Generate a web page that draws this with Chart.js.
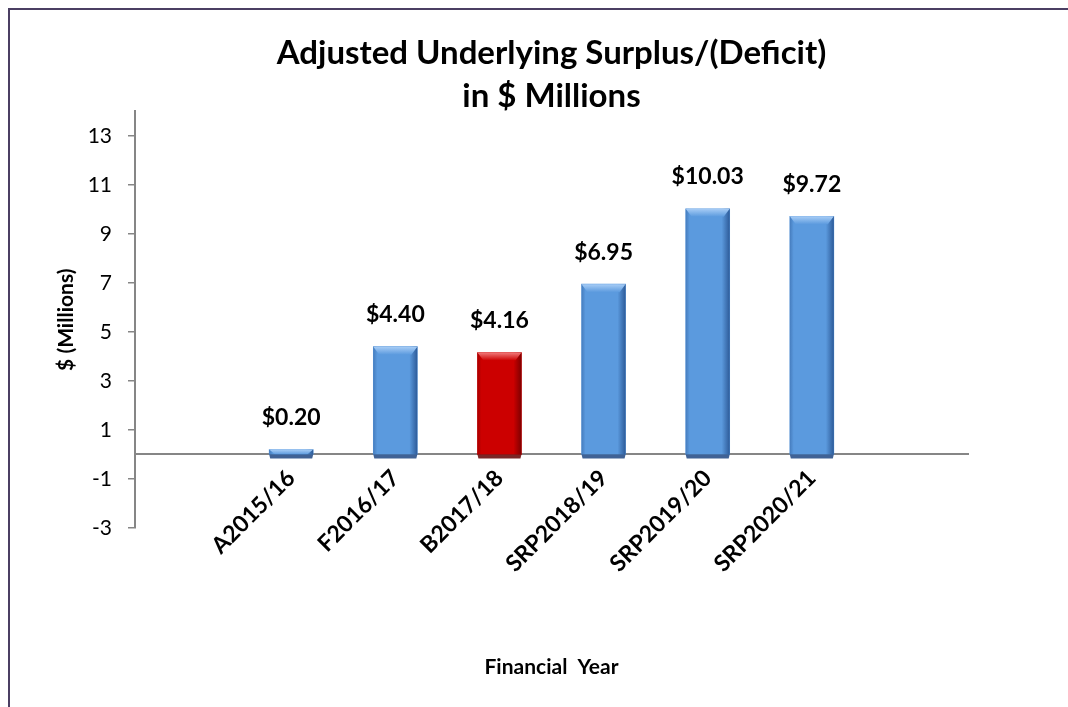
<!DOCTYPE html>
<html lang="en">
<head>
<meta charset="utf-8">
<title>Adjusted Underlying Surplus/(Deficit)</title>
<script src="https://cdn.jsdelivr.net/npm/chart.js"></script>
<style>
	body{ margin:0; background:#fff; }
	.chart_div{ position:relative; width:1068px; height:707px; overflow:hidden; background:#fff; }
	.frame{ position:absolute; left:8px; top:8px; width:1100px; height:800px; border-top:2px solid #4b3f63; border-left:2px solid #4b3f63; }
	#myChart{ position:absolute; left:0; top:0; }
</style>
</head>
<body>
<div class="chart_div">
	<div class="frame"></div>
	<canvas id="myChart" width="1068" height="707"></canvas>
</div>
<script>
// data
const categories = ['A2015/16', 'F2016/17', 'B2017/18', 'SRP2018/19', 'SRP2019/20', 'SRP2020/21'];
const surplus = [0.20, 4.40, 4.16, 6.95, 10.03, 9.72];
const yTicks = [-3, -1, 1, 3, 5, 7, 9, 11, 13];

// bar colours (budget year is red)
const barColors = ['#5b9ade', '#5b9ade', '#cc0000', '#5b9ade', '#5b9ade', '#5b9ade'];
const darkShade = { '#5b9ade': '30,70,130', '#cc0000': '100,0,0' };
const lightShade = { '#5b9ade': '#a8cdf6', '#cc0000': '#f07a7a' };

Chart.defaults.font.family = 'Lato';
Chart.defaults.color = '#000';

const axisGray = '#868686';

// 3d-ish bevel on top of the plain bars
const bevelPlugin = {
	id: 'bevel',
	afterDatasetsDraw(chart) {
		const ctx = chart.ctx;
		const meta = chart.getDatasetMeta(0);
		meta.data.forEach(function(bar, i) {
			const p = bar.getProps(['x', 'y', 'base', 'width'], true);
			const l = p.x - p.width / 2, r = p.x + p.width / 2;
			const top = Math.min(p.y, p.base), bot = Math.max(p.y, p.base);
			const dark = darkShade[barColors[i]];
			ctx.save();
			// right side shadow
			let g = ctx.createLinearGradient(r - 8, 0, r, 0);
			g.addColorStop(0, 'rgba(' + dark + ',0)');
			g.addColorStop(1, 'rgba(' + dark + ',0.75)');
			ctx.fillStyle = g;
			ctx.fillRect(r - 8, top, 8, bot - top);
			// left edge
			g = ctx.createLinearGradient(l, 0, l + 4, 0);
			g.addColorStop(0, 'rgba(' + dark + ',0.35)');
			g.addColorStop(1, 'rgba(' + dark + ',0)');
			ctx.fillStyle = g;
			ctx.fillRect(l, top, 4, bot - top);
			// top highlight
			const h = Math.min(8, bot - top);
			g = ctx.createLinearGradient(0, top, 0, top + h);
			g.addColorStop(0, lightShade[barColors[i]]);
			g.addColorStop(1, barColors[i]);
			ctx.fillStyle = g;
			ctx.beginPath();
			ctx.moveTo(l, top);
			ctx.lineTo(r, top);
			ctx.lineTo(r - 6, top + h);
			ctx.lineTo(l + 6, top + h);
			ctx.closePath();
			ctx.fill();
			// bottom bevel below the axis
			ctx.fillStyle = 'rgba(' + dark + ',0.85)';
			ctx.beginPath();
			ctx.moveTo(l, bot);
			ctx.lineTo(r, bot);
			ctx.lineTo(r - 1, bot + 4);
			ctx.lineTo(l + 1, bot + 4);
			ctx.closePath();
			ctx.fill();
			ctx.restore();
		});
	}
};

// value labels above bars + x axis title
const labelPlugin = {
	id: 'labels',
	afterDraw(chart) {
		const ctx = chart.ctx;
		const meta = chart.getDatasetMeta(0);
		ctx.save();
		ctx.fillStyle = '#000';
		ctx.textAlign = 'center';
		ctx.textBaseline = 'middle';
		ctx.font = 'bold 23px Lato';
		meta.data.forEach(function(bar, i) {
			ctx.fillText('$' + surplus[i].toFixed(2), bar.x, bar.y - 32);
		});
		const area = chart.chartArea;
		ctx.font = 'bold 21px Lato';
		ctx.fillText('Financial  Year', (area.left + area.right) / 2, area.bottom + 139);
		ctx.restore();
	}
};

const chart_data = {
	datasets: [{
		label: 'Adjusted Underlying Surplus/(Deficit)',
		data: surplus.map(function(v, i) { return { x: i, y: v }; }),
		backgroundColor: barColors,
		borderWidth: 0,
		barThickness: 44
	}]
};

const config = {
	type: 'bar',
	data: chart_data,
	options: {
		responsive: false,
		animation: false,
		layout: { padding: { left: 0, right: 100, top: 0, bottom: 179 } },
		plugins: {
			legend: { display: false },
			tooltip: { enabled: false },
			title: {
				display: true,
				fullSize: false,
				text: ['Adjusted Underlying Surplus/(Deficit)', 'in $ Millions'],
				font: { size: 33, weight: 'bold', lineHeight: 1.31 },
				color: '#000',
				padding: { top: 32, bottom: -7 }
			}
		},
		scales: {
			x: {
				type: 'linear',
				position: { y: 0 },
				offset: false,
				min: -1.5,
				max: 6.5,
				z: 1,
				afterBuildTicks: function(scale) {
					scale.ticks = categories.map(function(c, i) { return { value: i }; });
				},
				grid: { display: false, drawTicks: false, offset: false },
				border: { display: true, color: axisGray, width: 2 },
				ticks: {
					autoSkip: false,
					minRotation: 45,
					maxRotation: 45,
					padding: 10,
					font: { size: 23, weight: 'bold' },
					callback: function(value) { return categories[value]; }
				}
			},
			y: {
				min: -3,
				max: 14,
				afterBuildTicks: function(scale) {
					scale.ticks = yTicks.map(function(v) { return { value: v }; });
				},
				afterFit: function(scale) { scale.width = 135; },
				grid: { drawOnChartArea: false, tickLength: 7, color: axisGray, lineWidth: 1.5 },
				border: { display: true, color: axisGray, width: 2 },
				ticks: { padding: 16, font: { size: 21 } },
				title: {
					display: true,
					text: '$ (Millions)',
					font: { size: 21, weight: 'bold' },
					padding: { top: 54 }
				}
			}
		}
	},
	plugins: [bevelPlugin, labelPlugin]
};

var myChart = new Chart(document.getElementById('myChart'), config);
</script>
</body>
</html>
